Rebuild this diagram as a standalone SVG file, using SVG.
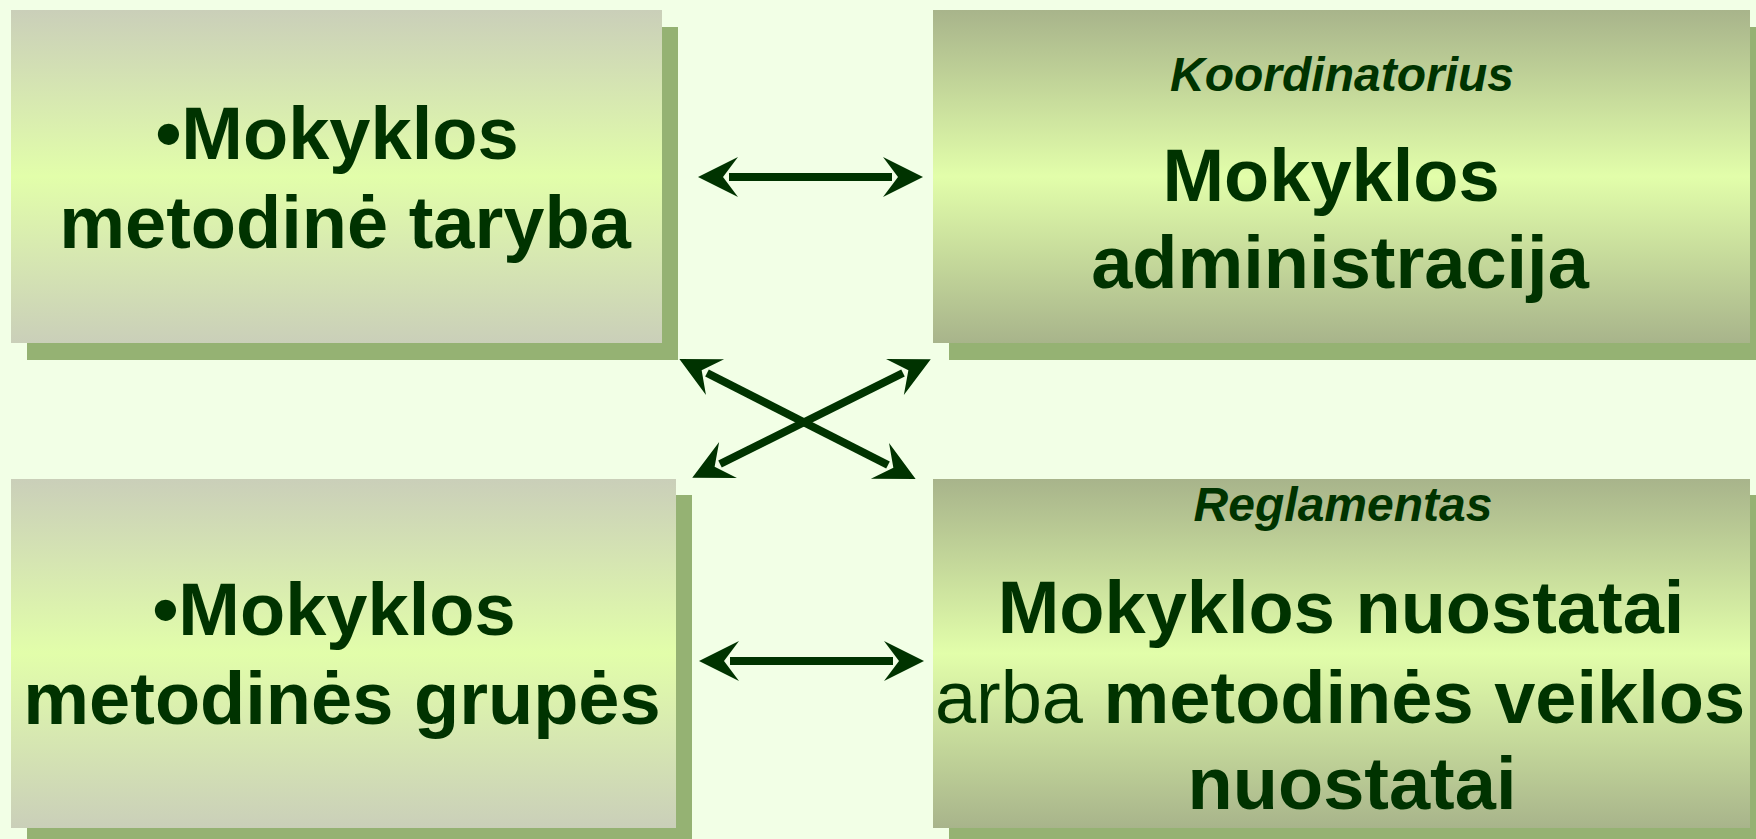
<svg xmlns="http://www.w3.org/2000/svg" width="1756" height="839" viewBox="0 0 1756 839">
<defs>
<linearGradient id="gl" x1="0" y1="0" x2="0" y2="1">
<stop offset="0" stop-color="#CACFB9"/>
<stop offset="0.5" stop-color="#E2FEAA"/>
<stop offset="1" stop-color="#CACFB9"/>
</linearGradient>
<linearGradient id="gr" x1="0" y1="0" x2="0" y2="1">
<stop offset="0" stop-color="#A8B48B"/>
<stop offset="0.5" stop-color="#E2FEAA"/>
<stop offset="1" stop-color="#A8B48B"/>
</linearGradient>
<marker id="ah" markerUnits="userSpaceOnUse" markerWidth="50" markerHeight="50" refX="-31" refY="0" orient="auto-start-reverse" overflow="visible">
<path d="M0,0 L-40,-20 L-25,0 L-40,20 Z" fill="#003300"/>
</marker>
<style>
.shadow{fill:#95B273}
.t{font-family:"Liberation Sans",Arial,sans-serif;font-weight:bold;fill:#003300;text-anchor:middle}
.big{font-size:74px}
.small{font-size:48px;font-style:italic}
.conn{stroke:#003300;stroke-width:8;fill:none;marker-start:url(#ah);marker-end:url(#ah)}
</style>
</defs>
<rect width="1756" height="839" fill="#F2FFE6"/>
<g id="node-metodine-taryba">
<rect class="shadow" x="27" y="27" width="651" height="333"/>
<rect x="11" y="10" width="651" height="333" fill="url(#gl)"/>
<text class="t big" x="337" y="159">•Mokyklos</text>
<text class="t big" x="345" y="248">metodinė taryba</text>
</g>
<g id="node-administracija">
<rect class="shadow" x="949" y="27" width="817" height="333"/>
<rect x="933" y="10" width="817" height="333" fill="url(#gr)"/>
<text class="t small" x="1342" y="91">Koordinatorius</text>
<text class="t big" x="1331" y="201">Mokyklos</text>
<text class="t big" x="1340" y="288">administracija</text>
</g>
<g id="node-metodines-grupes">
<rect class="shadow" x="27" y="495" width="665" height="349"/>
<rect x="11" y="479" width="665" height="349" fill="url(#gl)"/>
<text class="t big" x="334" y="635">•Mokyklos</text>
<text class="t big" x="342" y="724">metodinės grupės</text>
</g>
<g id="node-nuostatai">
<rect class="shadow" x="949" y="495" width="817" height="349"/>
<rect x="933" y="479" width="817" height="349" fill="url(#gr)"/>
<text class="t small" x="1343" y="521">Reglamentas</text>
<text class="t big" x="1341" y="633">Mokyklos nuostatai</text>
<text class="t big" x="1340" y="723"><tspan font-weight="normal">arba</tspan> metodinės veiklos</text>
<text class="t big" x="1352" y="809">nuostatai</text>
</g>
<g id="connectors">
<line class="conn" x1="729" y1="177" x2="892" y2="177"/>
<line class="conn" x1="730" y1="661" x2="893" y2="661"/>
<line class="conn" x1="707" y1="373" x2="888" y2="465"/>
<line class="conn" x1="720" y1="464" x2="903" y2="373"/>
</g>
</svg>
